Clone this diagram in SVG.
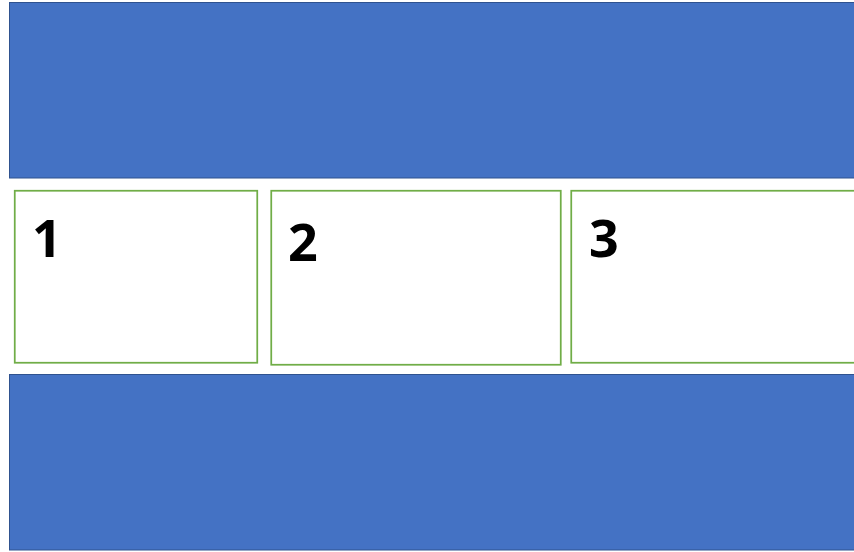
<svg xmlns="http://www.w3.org/2000/svg" width="854" height="552" viewBox="0 0 854 552">
<style>
.band{fill:#4472C4;stroke:#2F528F;stroke-width:1}
.box{fill:#FFFFFF;stroke:#70AD47;stroke-width:1.75}
.num{font-family:"Open Sans","Liberation Sans",sans-serif;font-weight:bold;font-size:52px;fill:#000}
</style>
<rect width="854" height="552" fill="#FFFFFF"/>
<g id="band-top"><rect class="band" x="9.5" y="2.5" width="850" height="175.5"/></g>
<g id="box-1"><rect class="box" x="14.75" y="190.75" width="242.5" height="172"/><text class="num" x="32" y="257">1</text></g>
<g id="box-2"><rect class="box" x="271.25" y="190.75" width="289.5" height="174"/><text class="num" x="288" y="261">2</text></g>
<g id="box-3"><rect class="box" x="571.25" y="190.75" width="300" height="172"/><text class="num" x="589" y="257">3</text></g>
<g id="band-bottom"><rect class="band" x="9.5" y="374.5" width="850" height="175.5"/></g>
<g id="connectors"></g>
</svg>
